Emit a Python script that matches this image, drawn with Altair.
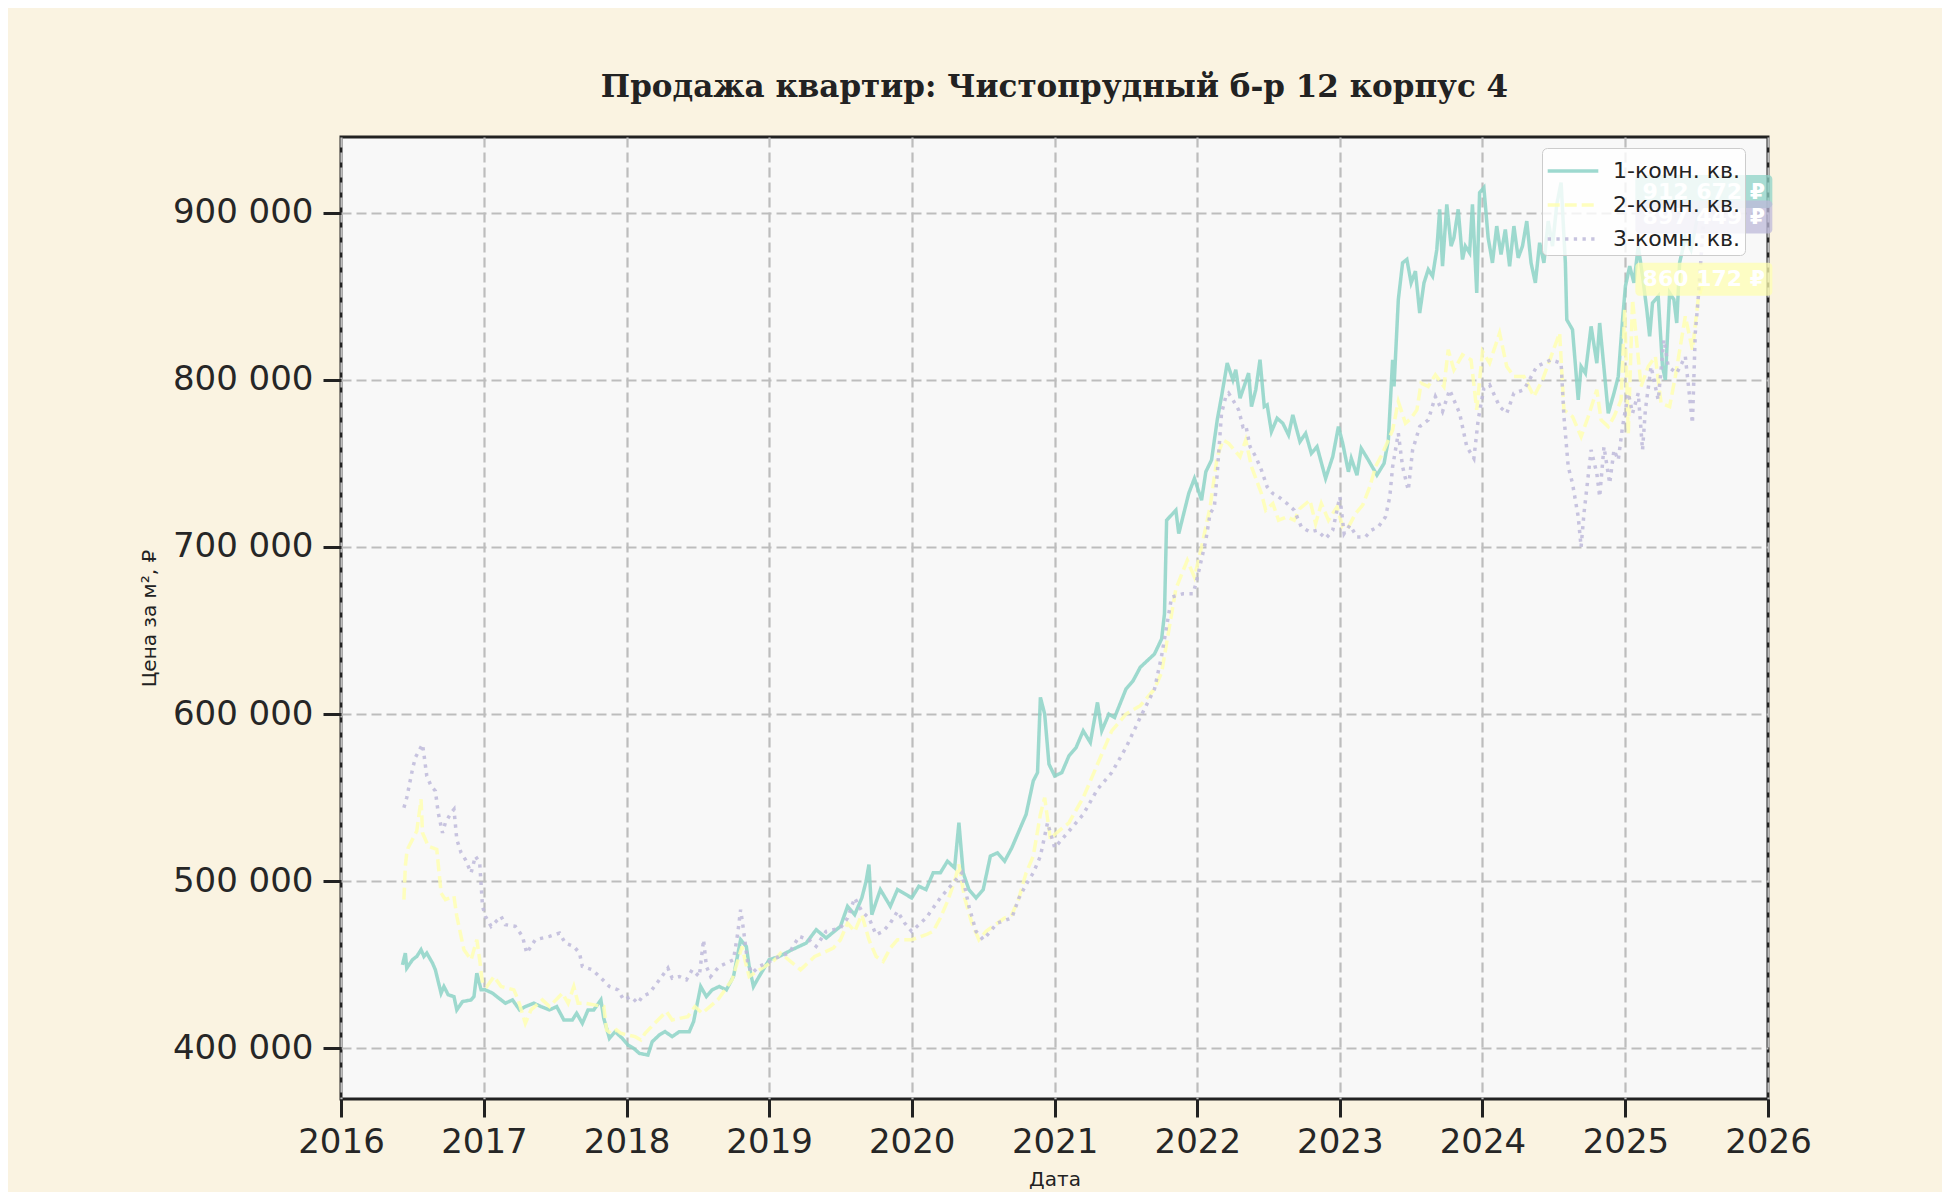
import altair as alt
import pandas as pd

TITLE = "Продажа квартир: Чистопрудный б-р 12 корпус 4"
series_names = ["1-комн. кв.", "2-комн. кв.", "3-комн. кв."]
series_colors = ["#8dd3c7", "#ffffb3", "#bebada"]
series_dashes = [[1, 0], [12, 5], [3.3, 5.4]]

year_ticks = list(range(2016, 2027))
price_ticks = [400000, 500000, 600000, 700000, 800000, 900000]

# 1-комн.: время (доли года) и цена за м2, тыс. руб.
years_1k = [
    2016.43, 2016.45, 2016.46, 2016.50, 2016.53, 2016.56, 2016.58, 2016.60, 2016.64, 2016.66,
    2016.70, 2016.72, 2016.75, 2016.79, 2016.81, 2016.85, 2016.91, 2016.93, 2016.95, 2016.98,
    2017.01, 2017.06, 2017.12, 2017.15, 2017.20, 2017.25, 2017.29, 2017.35, 2017.40, 2017.46,
    2017.51, 2017.56, 2017.62, 2017.65, 2017.69, 2017.73, 2017.77, 2017.82, 2017.84, 2017.88,
    2017.92, 2017.97, 2018.01, 2018.05, 2018.09, 2018.15, 2018.18, 2018.23, 2018.27, 2018.32,
    2018.37, 2018.44, 2018.47, 2018.52, 2018.56, 2018.60, 2018.65, 2018.70, 2018.75, 2018.80,
    2018.84, 2018.86, 2018.89, 2018.93, 2019.00, 2019.07, 2019.16, 2019.26, 2019.33, 2019.40,
    2019.50, 2019.55, 2019.60, 2019.65, 2019.68, 2019.70, 2019.72, 2019.78, 2019.85, 2019.90,
    2020.00, 2020.05, 2020.10, 2020.15, 2020.20, 2020.25, 2020.30, 2020.33, 2020.36, 2020.40,
    2020.45, 2020.50, 2020.55, 2020.60, 2020.65, 2020.70, 2020.75, 2020.80, 2020.85, 2020.88,
    2020.90, 2020.93, 2020.96, 2021.00, 2021.05, 2021.10, 2021.15, 2021.20, 2021.25, 2021.30,
    2021.33, 2021.38, 2021.42, 2021.50, 2021.55, 2021.60, 2021.65, 2021.70, 2021.75, 2021.77,
    2021.785, 2021.85, 2021.87, 2021.94, 2021.98, 2022.03, 2022.06, 2022.10, 2022.14, 2022.17,
    2022.21, 2022.25, 2022.27, 2022.30, 2022.36, 2022.38, 2022.41, 2022.44, 2022.47, 2022.49,
    2022.52, 2022.56, 2022.60, 2022.64, 2022.67, 2022.72, 2022.76, 2022.80, 2022.84, 2022.90,
    2022.95, 2022.99, 2023.02, 2023.06, 2023.08, 2023.12, 2023.15, 2023.20, 2023.26, 2023.31,
    2023.34, 2023.37, 2023.38, 2023.41, 2023.44, 2023.47, 2023.50, 2023.53, 2023.56, 2023.59,
    2023.62, 2023.65, 2023.68, 2023.70, 2023.72, 2023.75, 2023.78, 2023.80, 2023.83, 2023.86,
    2023.88, 2023.91, 2023.93, 2023.96, 2023.98, 2024.01, 2024.04, 2024.07, 2024.10, 2024.13,
    2024.16, 2024.19, 2024.22, 2024.25, 2024.28, 2024.31, 2024.34, 2024.37, 2024.40, 2024.43,
    2024.46, 2024.49, 2024.52, 2024.55, 2024.58, 2024.59, 2024.63, 2024.67, 2024.69, 2024.72,
    2024.76, 2024.80, 2024.82, 2024.88, 2024.92, 2024.95, 2024.98, 2025.00, 2025.03, 2025.06,
    2025.09, 2025.12, 2025.15, 2025.17, 2025.19, 2025.23, 2025.26, 2025.28, 2025.31, 2025.34,
    2025.36, 2025.38, 2025.42, 2025.46, 2025.50, 2025.55,
]
price_1k = [
    450, 457, 448, 453, 455, 459, 455, 457, 451, 447,
    433, 437, 432, 431, 423, 428, 429, 431, 445, 435,
    435, 433, 429, 427, 429, 423, 425, 427, 425, 423,
    425, 417, 417, 421, 415, 423, 423, 429, 418, 406,
    410, 406, 402, 400, 397, 396, 404, 408, 410, 407,
    410, 410, 416, 437, 431, 435, 437, 435, 443, 465,
    461, 449, 437, 443, 453, 455, 459, 463, 471, 466,
    473, 485, 480, 490, 500, 510, 480, 495, 485, 495,
    490, 497, 495, 505, 505, 512, 508, 535, 505, 495,
    490, 495, 515, 517, 512, 520, 530, 540, 560, 565,
    610, 600, 570, 563, 565, 575, 580, 590, 583, 607,
    590, 600, 598, 615, 620, 628, 632, 636, 645, 660,
    716, 722, 708, 732, 741, 728, 745, 752, 776, 790,
    810, 800, 806, 789, 804, 784, 794, 812, 784, 785,
    769, 777, 774, 767, 779, 763, 768, 756, 760, 741,
    754, 772, 762, 745, 753, 743, 759, 752, 743, 750,
    764, 812, 796, 848, 870, 872, 858, 865, 840, 858,
    866, 862, 878, 902, 868, 905, 880, 885, 902, 872,
    880, 876, 905, 852, 912, 915, 885, 870, 892, 875,
    890, 868, 892, 873, 880, 895, 870, 858, 882, 870,
    895, 880, 905, 918, 870, 836, 830, 788, 808, 804,
    832, 810, 834, 780, 792, 802, 836, 856, 868, 858,
    880, 862, 842, 826, 846, 850, 808, 800, 852, 848,
    834, 870, 885, 878, 895, 912.672,
]

# 2-комн.
years_2k = [
    2016.44, 2016.45, 2016.46, 2016.47, 2016.53, 2016.56, 2016.57, 2016.61, 2016.67, 2016.70,
    2016.73, 2016.79, 2016.81, 2016.86, 2016.91, 2016.95, 2016.97, 2016.99, 2017.02, 2017.07,
    2017.12, 2017.21, 2017.24, 2017.29, 2017.33, 2017.41, 2017.46, 2017.55, 2017.59, 2017.63,
    2017.66, 2017.71, 2017.84, 2017.86, 2017.89, 2017.93, 2017.96, 2018.06, 2018.10, 2018.13,
    2018.22, 2018.28, 2018.32, 2018.43, 2018.48, 2018.53, 2018.64, 2018.69, 2018.74, 2018.81,
    2018.83, 2018.86, 2018.97, 2019.04, 2019.08, 2019.22, 2019.27, 2019.32, 2019.40, 2019.45,
    2019.50, 2019.55, 2019.60, 2019.65, 2019.70, 2019.75, 2019.80, 2019.85, 2019.90, 2020.00,
    2020.10, 2020.15, 2020.20, 2020.25, 2020.30, 2020.33, 2020.37, 2020.42, 2020.47, 2020.52,
    2020.60, 2020.65, 2020.70, 2020.75, 2020.80, 2020.85, 2020.90, 2020.93, 2020.97, 2021.00,
    2021.10, 2021.20, 2021.30, 2021.40, 2021.50, 2021.60, 2021.70, 2021.75, 2021.80, 2021.85,
    2021.93, 2021.98, 2022.03, 2022.09, 2022.14, 2022.18, 2022.22, 2022.26, 2022.30, 2022.34,
    2022.38, 2022.45, 2022.48, 2022.53, 2022.57, 2022.63, 2022.68, 2022.72, 2022.79, 2022.83,
    2022.87, 2022.92, 2022.98, 2023.02, 2023.06, 2023.11, 2023.16, 2023.21, 2023.25, 2023.30,
    2023.37, 2023.41, 2023.46, 2023.50, 2023.54, 2023.57, 2023.62, 2023.67, 2023.73, 2023.76,
    2023.80, 2023.86, 2023.92, 2023.96, 2024.00, 2024.05, 2024.12, 2024.17, 2024.22, 2024.29,
    2024.36, 2024.42, 2024.48, 2024.54, 2024.57, 2024.63, 2024.69, 2024.74, 2024.80, 2024.83,
    2024.88, 2024.92, 2024.97, 2024.995, 2025.02, 2025.05, 2025.11, 2025.16, 2025.21, 2025.25,
    2025.31, 2025.35, 2025.42, 2025.47, 2025.51, 2025.55,
]
price_2k = [
    489, 509, 517, 520, 530, 549, 529, 521, 519, 493,
    489, 491, 479, 459, 453, 465, 453, 439, 437, 443,
    437, 435, 429, 415, 423, 429, 425, 433, 427, 437,
    427, 427, 425, 411, 409, 411, 409, 407, 405, 409,
    417, 422, 417, 419, 425, 421, 429, 435, 441, 461,
    453, 443, 449, 453, 457, 447, 451, 455, 458, 460,
    465, 475, 470, 480, 465, 455, 452, 460, 465, 465,
    468, 470, 478, 488, 500, 510, 490, 475, 465, 470,
    475, 478, 480, 490, 505, 515, 540, 550, 525, 528,
    535, 550, 570, 590, 600, 605, 615, 625, 650, 675,
    692, 682, 700, 724, 754, 764, 762, 758, 754, 764,
    748, 732, 722, 726, 716, 718, 716, 723, 728, 714,
    726, 716, 724, 712, 712, 720, 725, 736, 748, 756,
    770, 787, 774, 777, 782, 798, 796, 803, 796, 818,
    806, 815, 812, 782, 817, 810, 828, 808, 802, 802,
    790, 800, 814, 828, 782, 778, 766, 778, 794, 776,
    772, 778, 788, 842, 768, 848, 796, 808, 814, 786,
    784, 802, 838, 818, 848, 860.172,
]

# 3-комн.
years_3k = [
    2016.44, 2016.46, 2016.50, 2016.52, 2016.57, 2016.58, 2016.60, 2016.63, 2016.66, 2016.68,
    2016.71, 2016.73, 2016.77, 2016.79, 2016.81, 2016.84, 2016.87, 2016.91, 2016.94, 2016.97,
    2016.99, 2017.01, 2017.05, 2017.12, 2017.15, 2017.22, 2017.27, 2017.30, 2017.36, 2017.46,
    2017.53, 2017.57, 2017.63, 2017.67, 2017.69, 2017.76, 2017.81, 2017.88, 2017.94, 2017.98,
    2018.03, 2018.08, 2018.11, 2018.16, 2018.23, 2018.29, 2018.32, 2018.37, 2018.42, 2018.46,
    2018.51, 2018.54, 2018.56, 2018.59, 2018.65, 2018.70, 2018.75, 2018.78, 2018.80, 2018.82,
    2018.85, 2018.88, 2018.93, 2018.98, 2019.07, 2019.14, 2019.21, 2019.28, 2019.33, 2019.40,
    2019.50, 2019.55, 2019.60, 2019.65, 2019.70, 2019.75, 2019.80, 2019.85, 2019.90, 2019.95,
    2020.00, 2020.10, 2020.20, 2020.30, 2020.35, 2020.40, 2020.45, 2020.50, 2020.55, 2020.60,
    2020.70, 2020.75, 2020.80, 2020.85, 2020.90, 2020.95, 2021.00, 2021.10, 2021.20, 2021.30,
    2021.40, 2021.50, 2021.60, 2021.70, 2021.75, 2021.82, 2021.90, 2021.97, 2021.99, 2022.02,
    2022.06, 2022.09, 2022.12, 2022.14, 2022.17, 2022.20, 2022.22, 2022.25, 2022.29, 2022.32,
    2022.34, 2022.37, 2022.41, 2022.45, 2022.49, 2022.53, 2022.57, 2022.63, 2022.68, 2022.73,
    2022.79, 2022.84, 2022.90, 2022.95, 2023.00, 2023.03, 2023.07, 2023.12, 2023.18, 2023.22,
    2023.27, 2023.32, 2023.35, 2023.37, 2023.41, 2023.44, 2023.48, 2023.51, 2023.56, 2023.62,
    2023.67, 2023.72, 2023.77, 2023.84, 2023.89, 2023.94, 2023.97, 2024.01, 2024.05, 2024.12,
    2024.17, 2024.22, 2024.29, 2024.38, 2024.48, 2024.55, 2024.57, 2024.60, 2024.63, 2024.67,
    2024.69, 2024.71, 2024.76, 2024.80, 2024.82, 2024.85, 2024.89, 2024.92, 2024.95, 2024.98,
    2025.02, 2025.05, 2025.09, 2025.12, 2025.14, 2025.18, 2025.23, 2025.27, 2025.30, 2025.36,
    2025.42, 2025.47, 2025.49, 2025.51, 2025.55,
]
price_3k = [
    544, 550, 567, 574, 582, 576, 563, 557, 554, 541,
    529, 535, 541, 543, 525, 517, 513, 505, 515, 511,
    485, 479, 473, 479, 474, 473, 467, 457, 465, 467,
    469, 463, 461, 457, 449, 447, 443, 437, 435, 429,
    431, 427, 431, 433, 441, 448, 442, 443, 441, 447,
    443, 465, 449, 443, 449, 451, 453, 469, 483, 471,
    451, 445, 449, 451, 455, 457, 467, 465, 461, 470,
    472, 478, 490, 482, 478, 468, 470, 475, 482, 475,
    470, 478, 490, 500, 505, 485, 470, 465, 470, 475,
    478, 490, 498, 505, 515, 535, 520, 530, 540, 555,
    565, 580, 598, 615, 635, 670, 672, 672, 678, 689,
    704, 720, 724, 744, 780, 790, 792, 788, 782, 772,
    773, 760, 754, 746, 736, 732, 730, 726, 722, 712,
    709, 710, 705, 710, 730, 708, 713, 706, 706, 710,
    712, 718, 730, 748, 768, 748, 734, 758, 772, 776,
    790, 781, 794, 780, 760, 753, 776, 795, 797, 784,
    780, 792, 794, 808, 812, 810, 778, 748, 738, 718,
    700, 720, 758, 744, 730, 760, 738, 758, 752, 772,
    792, 780, 792, 758, 782, 808, 788, 824, 808, 804,
    814, 774, 828, 848, 897.449,
]


def to_date(t):
    y = int(t)
    start = pd.Timestamp(y, 1, 1)
    return start + (pd.Timestamp(y + 1, 1, 1) - start) * (t - y)


frames = []
for name, color, ts, vs in zip(series_names, series_colors,
                               [years_1k, years_2k, years_3k],
                               [price_1k, price_2k, price_3k]):
    frames.append(pd.DataFrame({
        "date": [to_date(t) for t in ts],
        "price": [v * 1000 for v in vs],
        "series": name,
        "color": color,
    }))
df = pd.concat(frames, ignore_index=True)

last = df.sort_values("date").groupby("series", as_index=False).last()
last["label"] = last["price"].round().astype(int).map(lambda v: f"{v:,}".replace(",", " ") + " ₽")

x_scale = alt.Scale(domain=[alt.DateTime(year=2016, month=1, date=1),
                            alt.DateTime(year=2026, month=1, date=1)])
y_scale = alt.Scale(domain=[369700, 945300], nice=False, zero=False)

# two no-break spaces after each label widen the legend box, as in the reference
legend = alt.Legend(
    title=None, orient="none", legendX=1201, legendY=11,
    fillColor="rgba(255,255,255,0.8)", strokeColor="#cccccc", cornerRadius=5,
    padding=5, rowPadding=5, symbolType="M-1.6,0H1.6", symbolSize=1000,
    symbolStrokeWidth=3.5, symbolOffset=8, symbolOpacity=0.85, labelOffset=22,
    labelFont="DejaVu Sans", labelFontSize=22, labelColor="#222222", labelLimit=300,
    labelExpr="datum.label + '\u00a0\u00a0'",
)

lines = alt.Chart(df).mark_line(strokeWidth=3.5, opacity=0.85).encode(
    x=alt.X("date:T", scale=x_scale, title="Дата",
            axis=alt.Axis(values=[alt.DateTime(year=y, month=1, date=1) for y in year_ticks],
                          format="%Y", labelPadding=8, titlePadding=10,
                          labelFlush=False, labelOverlap=False)),
    y=alt.Y("price:Q", scale=y_scale, title="Цена за м², ₽",
            axis=alt.Axis(values=price_ticks, labelPadding=10, titlePadding=13,
                          labelExpr="replace(format(datum.value, ','), regexp(',', 'g'), ' ')")),
    color=alt.Color("series:N", scale=alt.Scale(domain=series_names, range=series_colors), legend=legend),
    strokeDash=alt.StrokeDash("series:N", scale=alt.Scale(domain=series_names, range=series_dashes), legend=legend),
    order="date:T",
)

boxes = alt.Chart(last).mark_rect(width=137, height=33, cornerRadius=4, opacity=0.75).encode(
    x="date:T", y="price:Q", fill=alt.Fill("color:N", scale=None),
)

labels = alt.Chart(last).mark_text(
    font="DejaVu Sans", fontWeight="bold", fontSize=22, color="white", align="center", baseline="middle"
).encode(x="date:T", y="price:Q", text="label:N")

chart = alt.layer(lines, boxes, labels).properties(
    width=1427, height=962,
    title=alt.TitleParams(TITLE, font="DejaVu Serif", fontSize=31, fontWeight="bold",
                          color="#222222", anchor="middle", frame="group", offset=33),
    background="#FAF3E1",
    padding={"left": 333, "top": 129, "right": 174, "bottom": 93},
    autosize=alt.AutoSizeParams(type="none"),
).configure_view(
    fill="#F8F8F8", stroke="#222222", strokeWidth=3,
).configure_axis(
    grid=True, gridColor="#BDBDBD", gridDash=[10, 5], gridWidth=2.2,
    domain=False, tickColor="#222222", tickWidth=3, tickSize=18,
    labelFont="DejaVu Sans", labelFontSize=34, labelColor="#262626",
    titleFont="DejaVu Sans", titleFontSize=20, titleFontWeight="normal", titleColor="#222222",
)

chart.save("out.html", embed_options={"renderer": "svg", "actions": False})
